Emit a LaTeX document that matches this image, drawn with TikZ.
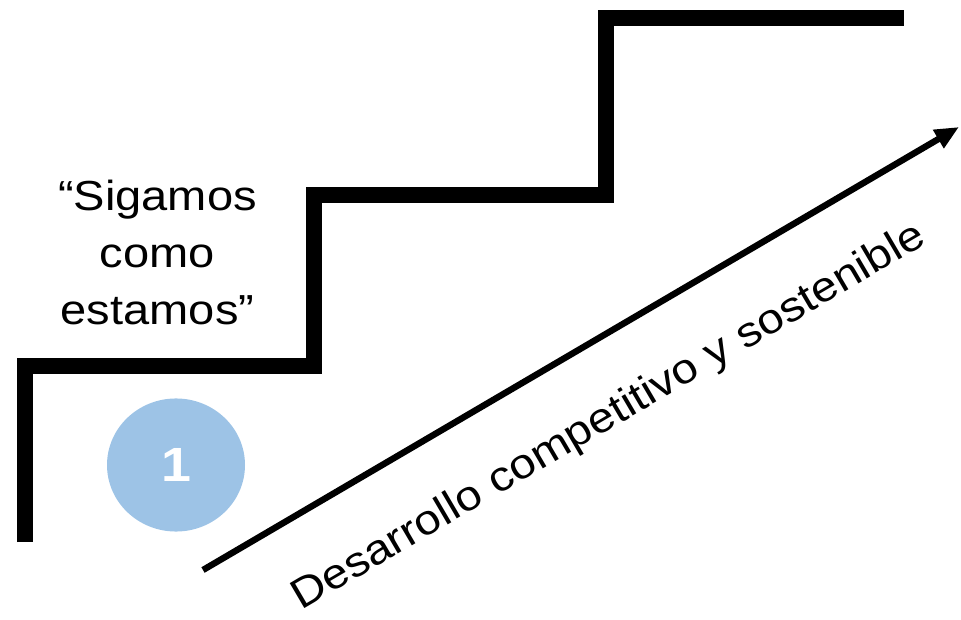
\documentclass[tikz,border=0pt]{standalone}
\usepackage{fontspec}
\setmainfont{Liberation Sans}[FakeStretch=1.12]
\usetikzlibrary{arrows.meta,shapes.geometric}
\definecolor{stepblue}{HTML}{9DC3E6}

\begin{document}
\begin{tikzpicture}[x=0.75pt,y=-0.75pt]
    % page in pixels
    \useasboundingbox (0,0) rectangle (961,620);

    % the stairs
    \coordinate (s0) at (25,542);
    \coordinate (s1) at (25,366);
    \coordinate (s2) at (314,366);
    \coordinate (s3) at (314,195);
    \coordinate (s4) at (606,195);
    \coordinate (s5) at (606,18);
    \coordinate (s6) at (904,18);
    \draw [line width=12pt] (s0) -- (s1) -- (s2) -- (s3) -- (s4) -- (s5) -- (s6);

    \node (quote) at (157.5,325) [anchor=base, inner sep=0, align=center, font=\fontsize{31.5pt}{43pt}\selectfont] {“Sigamos\\como\\estamos”};

    \node (num) at (176,465) [ellipse, fill=stepblue, minimum width=103.5pt, minimum height=99.8pt, inner sep=0, text=white, font=\fontsize{36pt}{40pt}\selectfont\bfseries] {1};

    \coordinate (a1) at (203,570);
    \coordinate (a2) at (959,127);
    \draw [-{Triangle[length=18pt,width=15pt]}, line width=4.8pt] (a1) -- (a2);

    \node (dev) at (301,611) [anchor=base west, rotate=30.4, inner sep=0, font=\fontsize{31.5pt}{43pt}\selectfont] {Desarrollo competitivo y sostenible};
\end{tikzpicture}
\end{document}
